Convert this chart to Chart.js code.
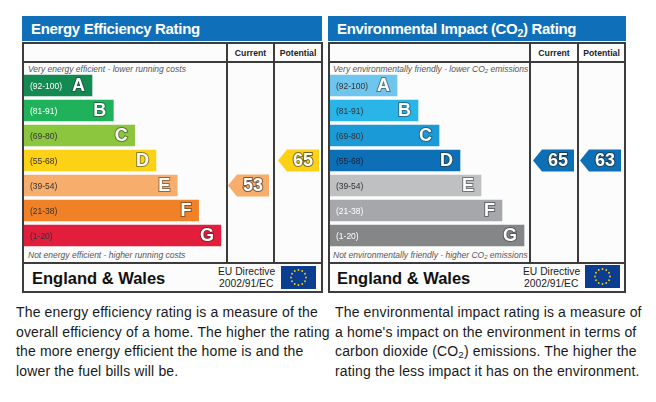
<!DOCTYPE html>
<html>
<head>
<meta charset="utf-8">
<script src="https://cdn.jsdelivr.net/npm/chart.js@4"></script>
<style>
    html, body { margin: 0; padding: 0; background: #fff; width: 656px; height: 402px; overflow: hidden; }
    body { position: relative; font-family: "Liberation Sans", Arial, sans-serif; color: #222; }
    .abs { position: absolute; white-space: nowrap; line-height: 1; }
    .title { background: #0f6fb8; color: #fff; font-weight: bold; font-size: 15px; letter-spacing: -0.33px; height: 25px; box-sizing: border-box; padding: 5px 0 0 9px; }
    .frame { border: 2px solid #3c3c3c; box-sizing: border-box; background: #fcfcfc; }
    .hline { background: #3c3c3c; height: 2px; }
    .vline { background: #3c3c3c; width: 2px; }
    .head { font-weight: bold; font-size: 8.7px; color: #222; text-align: center; }
    .note { font-style: italic; font-size: 8.5px; color: #555; }
    .country { font-weight: bold; font-size: 16.5px; color: #111; }
    .eu { font-size: 10.3px; color: #222; }
    .para { font-size: 14px; letter-spacing: 0.15px; line-height: 19.5px; color: #1a1a1a; white-space: nowrap; position: absolute; }
    sub { font-size: 70%; vertical-align: -0.25em; line-height: 0; }
    canvas { position: absolute; }
</style>
</head>
<body>

<!-- ===== Energy Efficiency ===== -->
<div class="abs title" style="left:22px;top:16px;width:300px;">Energy Efficiency Rating</div>
<div class="abs frame" style="left:22px;top:42px;width:301px;height:251px;"></div>
<div class="abs hline" style="left:22px;top:61px;width:301px;"></div>
<div class="abs hline" style="left:22px;top:262px;width:301px;"></div>
<div class="abs vline" style="left:226px;top:42px;height:221px;"></div>
<div class="abs vline" style="left:273px;top:42px;height:221px;"></div>
<div class="abs head" style="left:228px;top:49px;width:45px;">Current</div>
<div class="abs head" style="left:275px;top:49px;width:46px;">Potential</div>
<div class="abs note" style="left:28px;top:65px;">Very energy efficient - lower running costs</div>
<div class="abs note" style="left:28px;top:251px;">Not energy efficient - higher running costs</div>
<div class="abs country" style="left:32px;top:270px;">England &amp; Wales</div>
<div class="abs eu" style="left:218px;top:267px;">EU Directive</div>
<div class="abs eu" style="left:219px;top:279px;">2002/91/EC</div>
<svg class="abs flag" style="left:281px;top:266px;" width="35" height="23"></svg>
<canvas id="chartEnergy" width="299" height="201" style="left:23px;top:62px;"></canvas>

<!-- ===== Environmental Impact ===== -->
<div class="abs title" style="left:328px;top:16px;width:298px;">Environmental Impact (CO<sub>2</sub>) Rating</div>
<div class="abs frame" style="left:328px;top:42px;width:298px;height:251px;"></div>
<div class="abs hline" style="left:328px;top:61px;width:298px;"></div>
<div class="abs hline" style="left:328px;top:262px;width:298px;"></div>
<div class="abs vline" style="left:529px;top:42px;height:221px;"></div>
<div class="abs vline" style="left:577px;top:42px;height:221px;"></div>
<div class="abs head" style="left:531px;top:49px;width:46px;">Current</div>
<div class="abs head" style="left:579px;top:49px;width:45px;">Potential</div>
<div class="abs note" style="left:333px;top:65px;">Very environmentally friendly - lower CO<sub>2</sub> emissions</div>
<div class="abs note" style="left:333px;top:251px;">Not environmentally friendly - higher CO<sub>2</sub> emissions</div>
<div class="abs country" style="left:337px;top:270px;">England &amp; Wales</div>
<div class="abs eu" style="left:523px;top:267px;">EU Directive</div>
<div class="abs eu" style="left:524px;top:279px;">2002/91/EC</div>
<svg class="abs flag" style="left:585px;top:265px;" width="35" height="23"></svg>
<canvas id="chartEnvironment" width="296" height="201" style="left:329px;top:62px;"></canvas>

<!-- ===== Texto de baixo ===== -->
<div class="para" style="left:16px;top:303px;">The energy efficiency rating is a measure of the<br>overall efficiency of a home. The higher the rating<br>the more energy efficient the home is and the<br>lower the fuel bills will be.</div>
<div class="para" style="left:335px;top:303px;">The environmental impact rating is a measure of<br>a home's impact on the environment in terms of<br>carbon dioxide (CO<sub>2</sub>) emissions. The higher the<br>rating the less impact it has on the environment.</div>

<script>
// bands and values
const bands = ["A", "B", "C", "D", "E", "F", "G"];
const ranges = ["(92-100)", "(81-91)", "(69-80)", "(55-68)", "(39-54)", "(21-38)", "(1-20)"];
const rangeMin = [92, 81, 69, 55, 39, 21, 1];
const barLength = [33.5, 44, 54.5, 65, 75.5, 86, 97];

const energyColors = ["#138a52", "#1fb25a", "#8cc63f", "#fcd116", "#f7ad6b", "#f08127", "#e31d3c"];
const energyRangeText = ["#fff", "#fff", "#333", "#333", "#333", "#333", "#333"];
const energyCurrent = 53;
const energyPotential = 65;

const envColors = ["#6ec6ef", "#29b5e8", "#1a9ad6", "#0d6fb5", "#bfc0c2", "#a5a7aa", "#858688"];
const envRangeText = ["#333", "#333", "#333", "#223", "#333", "#fff", "#fff"];
const envCurrent = 65;
const envPotential = 63;

document.addEventListener("DOMContentLoaded", () => {
    desenharBandeiras();
    criarGrafico("chartEnergy", energyColors, energyRangeText, energyCurrent, energyPotential, 1, 51);
    criarGrafico("chartEnvironment", envColors, envRangeText, envCurrent, envPotential, 3, 50);
});

/* ================================
      BANDEIRA DA UE
================================ */
function desenharBandeiras() {
    document.querySelectorAll("svg.flag").forEach(svg => {
        let s = '<rect width="35" height="23" fill="#0b3d91"/>';
        for (let k = 0; k < 12; k++) {
            const a = k * Math.PI / 6;
            const cx = 17.5 + 7.5 * Math.cos(a);
            const cy = 11.5 + 7.5 * Math.sin(a);
            s += `<circle cx="${cx.toFixed(2)}" cy="${cy.toFixed(2)}" r="0.9" fill="#ffd200"/>`;
        }
        svg.innerHTML = s;
    });
}

function bandOf(rating) {
    return rangeMin.findIndex(m => rating >= m);
}

function drawArrow(ctx, x, y, value, color) {
    const w = 41, h = 22, tip = 9;
    ctx.save();
    ctx.beginPath();
    ctx.moveTo(x, y);
    ctx.lineTo(x + tip, y - h / 2);
    ctx.lineTo(x + w, y - h / 2);
    ctx.lineTo(x + w, y + h / 2);
    ctx.lineTo(x + tip, y + h / 2);
    ctx.closePath();
    ctx.fillStyle = color;
    ctx.fill();
    ctx.font = "bold 18px 'Liberation Sans', Arial, sans-serif";
    ctx.textAlign = "center";
    ctx.textBaseline = "middle";
    ctx.lineWidth = 2;
    ctx.strokeStyle = "rgba(30,30,30,0.6)";
    ctx.strokeText(String(value), x + tip + (w - tip) / 2, y + 1);
    ctx.fillStyle = "#fff";
    ctx.fillText(String(value), x + tip + (w - tip) / 2, y + 1);
    ctx.restore();
}

/* ================================
      PLUGIN — TEXTOS E SETAS
================================ */
const epcPlugin = {
    id: "epc",
    afterDatasetsDraw(chart, args, opts) {
        const ctx = chart.ctx;
        const area = chart.chartArea;
        const yScale = chart.scales.y;

        chart.getDatasetMeta(0).data.forEach((bar, i) => {
            ctx.save();
            ctx.textBaseline = "middle";
            ctx.font = "8.5px 'Liberation Sans', Arial, sans-serif";
            ctx.fillStyle = opts.rangeText[i];
            ctx.textAlign = "left";
            ctx.fillText(ranges[i], bar.base + 6, bar.y + 1);

            ctx.font = "bold 18px 'Liberation Sans', Arial, sans-serif";
            ctx.textAlign = "right";
            ctx.lineWidth = 2;
            ctx.strokeStyle = "rgba(40,40,40,0.5)";
            ctx.strokeText(bands[i], bar.x - 7, bar.y + 1);
            ctx.fillStyle = "#fff";
            ctx.fillText(bands[i], bar.x - 7, bar.y + 1);
            ctx.restore();
        });

        const bc = bandOf(opts.current);
        const bp = bandOf(opts.potential);
        drawArrow(ctx, area.right + opts.currentOffset, yScale.getPixelForValue(bc), opts.current, opts.colors[bc]);
        drawArrow(ctx, area.right + opts.potentialOffset, yScale.getPixelForValue(bp), opts.potential, opts.colors[bp]);
    }
};

/* ================================
      GRÁFICO
================================ */
function criarGrafico(id, colors, rangeText, current, potential, currentOffset, potentialOffset) {
    const ctx = document.getElementById(id);

    new Chart(ctx, {
        type: "bar",
        data: {
            labels: bands,
            datasets: [{
                data: barLength,
                backgroundColor: colors,
                borderWidth: 0,
                barThickness: 21
            }]
        },
        options: {
            indexAxis: "y",
            responsive: false,
            animation: false,
            devicePixelRatio: 1,
            layout: { padding: { left: 1, right: 95, top: 11, bottom: 15 } },
            scales: {
                x: { min: 0, max: 100, display: false },
                y: { display: false }
            },
            plugins: {
                legend: { display: false },
                tooltip: { enabled: false },
                epc: { colors, rangeText, current, potential, currentOffset, potentialOffset }
            }
        },
        plugins: [epcPlugin]
    });
}
</script>
</body>
</html>
